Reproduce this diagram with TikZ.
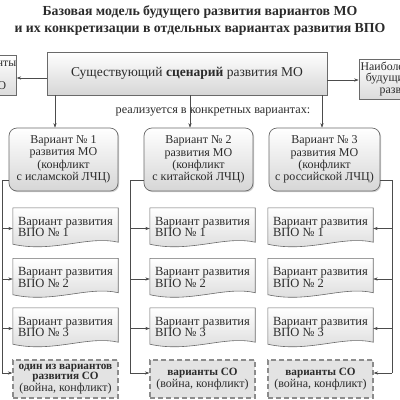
\documentclass[tikz,border=0pt]{standalone}
\usepackage{fontspec}
\setmainfont{Liberation Serif}
\usetikzlibrary{arrows.meta,shadows,calc,backgrounds}
\definecolor{ink}{HTML}{2B2B2B}
\definecolor{edge}{HTML}{6A6A6A}
\newcommand\docshape[1]{%
  \path[docdraw] (#1.north west) -- (#1.north east) -- ([yshift=4pt]#1.south east)
    .. controls ([xshift=-30pt,yshift=11pt]#1.south east) and ([xshift=40pt,yshift=-7pt]#1.south west)
    .. ([yshift=2pt]#1.south west) -- cycle;}
\newcommand\sobf[1]{{\fontsize{11.2}{10.4}\selectfont\bfseries #1}}
\tikzset{
  ttl/.style={font=\fontsize{13.8}{17}\selectfont\bfseries, align=center},
  mainbox/.style={draw=edge, line width=0.7pt, top color=white, bottom color=black!16,
    drop shadow={shadow xshift=1.2pt,shadow yshift=-1.2pt,fill=black!35},
    minimum width=280pt, minimum height=43pt, font=\fontsize{13.5}{15}\selectfont},
  sidebox/.style={draw=edge, line width=0.7pt, top color=white, bottom color=black!14,
    minimum height=40pt, align=center, font=\fontsize{11.8}{11.5}\selectfont},
  varbox/.style={draw=edge, line width=0.7pt, rounded corners=8pt, top color=white, bottom color=black!16,
    drop shadow={shadow xshift=1.2pt,shadow yshift=-1.2pt,fill=black!35},
    minimum height=63pt, align=center, font=\fontsize{12}{12.4}\selectfont},
  docnode/.style={minimum width=105pt, minimum height=38pt, align=left, font=\fontsize{12.5}{11.5}\selectfont},
  docdraw/.style={draw=edge, line width=0.6pt, top color=white, bottom color=black!15},
  sobox/.style={draw=black!45, line width=1.2pt, dash pattern=on 5pt off 3pt, fill=black!11,
    minimum width=105pt, minimum height=38pt, align=center, font=\fontsize{12}{10.4}\selectfont},
  ln/.style={draw=black!70, line width=0.55pt},
  arr/.style={ln, -{Stealth[length=4.5pt,width=3.2pt]}},
}
\begin{document}
\begin{tikzpicture}[x=1pt,y=-1pt, every node/.style={text=ink, inner sep=0pt}]
\clip (0,0) rectangle (400,400);

% title
\node[ttl] (title) at (200,20.5) {Базовая модель будущего развития вариантов МО\\и их конкретизации в отдельных вариантах развития ВПО};

% top row
\node[mainbox] (main) at (187,73.5) {Существующий \textbf{сценарий} развития МО};
\node[sidebox, minimum width=84pt] (lbox) at (-27,75.5) {Другие варианты\\будущего\\развития МО};
\node[sidebox, minimum width=108pt] (rbox) at (413,79) {Наиболее вероятный\\будущий сценарий\\развития МО};

\node[font=\fontsize{12.2}{13}\selectfont] (real) at (213,112) {реализуется в конкретных вариантах:};

% variants of MO
\node[varbox, minimum width=109pt] (v1) at (63.5,159.5) {Вариант №~1\\развития МО\\(конфликт\\с исламской ЛЧЦ)};
\node[varbox, minimum width=109pt] (v2) at (198.5,159.5) {Вариант №~2\\развития МО\\(конфликт\\с китайской ЛЧЦ)};
\node[varbox, minimum width=111pt] (v3) at (324.5,159.5) {Вариант №~3\\развития МО\\(конфликт\\с российской ЛЧЦ)};

% VPO document boxes
\foreach \c/\x in {1/65.5,2/202.5,3/320.5}{
  \foreach \r/\y in {1/227,2/277.5,3/327}{
    \node[docnode] (d\c\r) at (\x,\y) {Вариант развития\\ВПО №~\r};
  }
}
\begin{scope}[on background layer]
  \fill[white] (0,0) rectangle (400,400);
  \foreach \c in {1,2,3}{\foreach \r in {1,2,3}{\docshape{d\c\r}}}
\end{scope}

% SO boxes
\node[sobox] (s1) at (65.5,379) {\sobf{один из вариантов}\\\sobf{развития СО}\\(война, конфликт)};
\node[sobox] (s2) at (202.5,379) {\sobf{варианты СО}\\(война, конфликт)};
\node[sobox] (s3) at (320.5,379) {\sobf{варианты СО}\\(война, конфликт)};

% connectors top
\coordinate (xa) at (55,0);
\coordinate (xb) at (190,0);
\coordinate (xc) at (322,0);
\coordinate (pl) at ([yshift=-4.5pt]main.west);
\coordinate (pr) at ([yshift=-6.5pt]main.east);
\draw[arr] (pl) -- (lbox.east |- pl);
\draw[arr] (pr) -- (rbox.west |- pr);
\draw[arr] (main.south -| xa) -- (v1.north -| xa);
\draw[arr] (main.south -| xb) -- (v2.north -| xb);
\draw[arr] (main.south -| xc) -- (v3.north -| xc);

% brackets
\coordinate (b1) at (2,180);
\coordinate (b2) at (130,180);
\coordinate (b3) at (392,180);
\coordinate (t1) at ([yshift=6pt]s1.west);
\coordinate (t2) at ([yshift=6pt]s2.west);
\coordinate (t3) at ([yshift=6pt]s3.east);
\draw[ln] (v1.west |- b1) -- (b1) -- (b1 |- t1);
\draw[ln] (v2.west |- b2) -- (b2) -- (b2 |- t2);
\draw[ln] (v3.east |- b3) -- (b3) -- (b3 |- t3);
\foreach \r in {1,2,3}{
  \coordinate (q1\r) at ([yshift=-1.5pt]d1\r.west);
  \coordinate (q2\r) at ([yshift=-1.5pt]d2\r.west);
  \coordinate (q3\r) at ([yshift=-1.5pt]d3\r.east);
  \draw[arr] (b1 |- q1\r) -- (q1\r);
  \draw[arr] (b2 |- q2\r) -- (q2\r);
  \draw[arr] (b3 |- q3\r) -- (q3\r);
}
\draw[arr] (b1 |- t1) -- (t1);
\draw[arr] (b2 |- t2) -- (t2);
\draw[arr] (b3 |- t3) -- (t3);
\end{tikzpicture}
\end{document}
